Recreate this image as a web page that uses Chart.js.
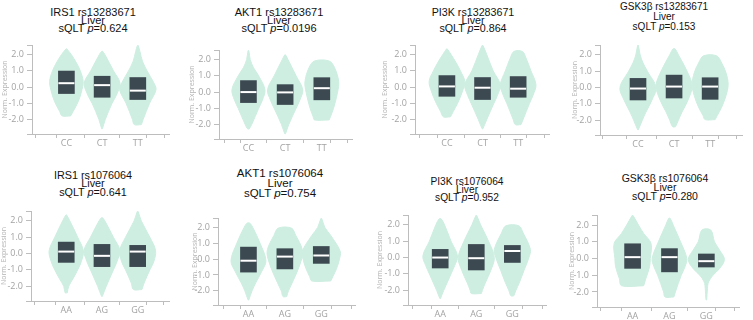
<!DOCTYPE html>
<html>
<head>
<meta charset="utf-8">
<script src="https://cdn.jsdelivr.net/npm/chart.js@4.4.1/dist/chart.umd.min.js"></script>
<style>
  body { margin: 0; width: 753px; height: 320px; background: #fff; position: relative; overflow: hidden; }
  canvas { position: absolute; }
  .title { position: absolute; text-align: center; white-space: nowrap; color: #111;
           font-family: "Liberation Sans", Arial, sans-serif; transform: translateX(-50%); }
</style>
</head>
<body>
<script>
// categories
const genotypesA = ['CC', 'CT', 'TT'];
const genotypesB = ['AA', 'AG', 'GG'];
const genes = ['IRS1', 'AKT1', 'PI3K', 'GSK3β', 'IRS1', 'AKT1', 'PI3K', 'GSK3β'];
const snps = ['rs13283671', 'rs13283671', 'rs13283671', 'rs13283671', 'rs1076064', 'rs1076064', 'rs1076064', 'rs1076064'];
const pValues = ['0.624', '0.0196', '0.864', '0.153', '0.641', '0.754', '0.952', '0.280'];
const yTickValues = [-2, -1, 0, 1, 2];

// box plots: lower quartile, upper quartile, median (one row per panel)
const boxQ1 = [
  [-0.40, -0.63, -0.77], [-0.65, -0.77, -0.48], [-0.57, -0.77, -0.63], [-0.76, -0.64, -0.72],
  [-0.54, -0.80, -0.80], [-0.82, -0.62, -0.27], [-0.64, -0.76, -0.30], [-0.59, -0.80, -0.51]
];
const boxQ3 = [
  [0.99, 0.67, 0.59], [0.71, 0.46, 0.89], [0.71, 0.59, 0.65], [0.56, 0.76, 0.60],
  [0.70, 0.56, 0.50], [0.76, 0.66, 0.80], [0.50, 0.80, 0.74], [0.88, 0.59, 0.27]
];
const medians = [
  [0.24, 0.12, -0.22], [0.00, -0.02, 0.24], [0.04, -0.04, -0.10], [-0.06, 0.06, 0.06],
  [0.12, -0.14, 0.12], [-0.10, 0.16, 0.23], [0.00, -0.04, 0.40], [0.08, 0.08, -0.16]
];

// violin outlines: [expression value, half width in category units], top to bottom
const violinsP1 = [
  [[2.36, 0.01], [2.0, 0.14], [1.5, 0.28], [1.0, 0.39], [0.35, 0.47], [-0.3, 0.42], [-0.9, 0.33], [-1.5, 0.19], [-1.78, 0.12]],
  [[2.22, 0.01], [2.0, 0.08], [1.0, 0.32], [0.25, 0.5], [-0.5, 0.4], [-1.0, 0.28], [-2.0, 0.09], [-2.58, 0.01]],
  [[2.58, 0.01], [2.2, 0.06], [1.6, 0.13], [1.0, 0.26], [0.3, 0.44], [-0.16, 0.51], [-1.0, 0.33], [-2.0, 0.15], [-2.32, 0.1]]
];
const violinsP2 = [
  [[2.56, 0.01], [2.0, 0.05], [1.5, 0.14], [1.0, 0.28], [0.15, 0.45], [-0.5, 0.38], [-1.0, 0.28], [-2.0, 0.09], [-2.28, 0.02]],
  [[2.3, 0.01], [2.0, 0.08], [1.0, 0.3], [0.15, 0.48], [-0.5, 0.4], [-1.0, 0.3], [-2.0, 0.1], [-2.58, 0.01]],
  [[1.92, 0.2], [1.5, 0.35], [0.65, 0.46], [0.0, 0.43], [-1.0, 0.32], [-1.5, 0.24], [-1.72, 0.2]]
];
const violinsP3 = [
  [[2.36, 0.01], [2.0, 0.12], [1.5, 0.26], [1.0, 0.38], [0.35, 0.5], [-0.3, 0.43], [-1.0, 0.3], [-1.5, 0.18], [-1.84, 0.1]],
  [[2.58, 0.01], [2.0, 0.12], [1.0, 0.3], [0.15, 0.5], [-0.5, 0.42], [-1.0, 0.32], [-2.0, 0.12], [-2.58, 0.01]],
  [[2.2, 0.12], [1.8, 0.22], [1.0, 0.36], [0.15, 0.5], [-0.5, 0.42], [-1.0, 0.32], [-2.0, 0.14], [-2.32, 0.08]]
];
const violinsP4 = [
  [[2.58, 0.01], [2.0, 0.06], [1.5, 0.14], [1.0, 0.26], [0.0, 0.5], [-0.8, 0.38], [-1.5, 0.22], [-2.0, 0.12], [-2.58, 0.01]],
  [[2.36, 0.03], [2.0, 0.12], [1.0, 0.36], [0.1, 0.5], [-0.8, 0.38], [-1.5, 0.22], [-2.0, 0.12], [-2.4, 0.04]],
  [[1.94, 0.18], [1.5, 0.32], [0.9, 0.44], [0.2, 0.5], [-0.5, 0.44], [-1.2, 0.32], [-1.7, 0.2], [-1.96, 0.14]]
];
const violinsP5 = [
  [[2.36, 0.01], [2.0, 0.1], [1.0, 0.32], [0.16, 0.48], [-0.5, 0.42], [-1.0, 0.32], [-1.5, 0.2], [-2.0, 0.07], [-2.4, 0.03]],
  [[2.2, 0.01], [2.0, 0.08], [1.0, 0.32], [0.2, 0.5], [-0.5, 0.42], [-1.0, 0.32], [-2.0, 0.12], [-2.62, 0.01]],
  [[2.58, 0.01], [2.0, 0.1], [1.0, 0.34], [0.2, 0.5], [-0.5, 0.45], [-1.0, 0.34], [-1.8, 0.18], [-2.2, 0.12]]
];
const violinsP6 = [
  [[2.27, 0.04], [2.0, 0.12], [1.0, 0.32], [-0.1, 0.48], [-0.8, 0.36], [-1.5, 0.2], [-2.0, 0.1], [-2.58, 0.01]],
  [[1.96, 0.18], [1.5, 0.3], [0.6, 0.48], [0.0, 0.46], [-1.0, 0.3], [-2.0, 0.1], [-2.37, 0.05]],
  [[2.58, 0.01], [2.0, 0.1], [1.5, 0.26], [0.5, 0.52], [0.0, 0.5], [-0.6, 0.42], [-1.1, 0.32], [-1.38, 0.26]]
];
const violinsP7 = [
  [[2.36, 0.03], [2.0, 0.12], [1.0, 0.3], [0.1, 0.48], [-0.5, 0.4], [-1.0, 0.3], [-2.0, 0.1], [-2.5, 0.01]],
  [[2.58, 0.01], [2.0, 0.12], [1.0, 0.34], [0.0, 0.5], [-0.8, 0.4], [-1.5, 0.26], [-2.0, 0.17], [-2.2, 0.14]],
  [[1.94, 0.18], [1.5, 0.3], [0.5, 0.5], [0.0, 0.46], [-0.8, 0.32], [-1.5, 0.2], [-2.0, 0.1], [-2.34, 0.04]]
];
const violinsP8 = [
  [[2.58, 0.01], [2.0, 0.16], [1.5, 0.3], [0.9, 0.5], [0.0, 0.48], [-0.5, 0.46], [-1.2, 0.36], [-1.63, 0.3]],
  [[2.4, 0.02], [2.0, 0.1], [1.0, 0.3], [0.0, 0.47], [-0.5, 0.42], [-1.0, 0.32], [-2.0, 0.16], [-2.3, 0.12]],
  [[1.7, 0.12], [1.0, 0.22], [0.5, 0.36], [-0.06, 0.49], [-0.6, 0.36], [-1.0, 0.18], [-1.4, 0.06], [-1.8, 0.03], [-2.47, 0.01]]
];
const violins = [violinsP1, violinsP2, violinsP3, violinsP4, violinsP5, violinsP6, violinsP7, violinsP8];

// panel layout (pixels)
const axisLeft = [32, 219, 415, 600, 31, 218, 408, 597];
const axisRight = [175, 358, 555, 748, 175, 361, 552, 745];
const zeroY = [86, 90.7, 85.7, 86.7, 252.7, 258.3, 256.7, 257.3];
const unitPx = [16.5, 16.5, 16.5, 16.7, 16.7, 16.2, 16.7, 17];
const xMin = [-0.58, -0.44, -0.52, -0.66, -0.6, -0.46, -0.51, -0.58];
const xMax = [2.49, 2.46, 2.49, 2.49, 2.49, 2.55, 2.55, 2.5];
const yAxisWidth = [31, 31, 34, 29, 31, 27, 32, 29];
const titleX = [93, 279, 473, 664, 93, 280, 467, 665];
const titleY = [12, 12, 12, 7, 175, 173, 182, 178];
const titleGap = [8.2, 8.2, 8.2, 10, 8.5, 10, 8, 9];
const titleSize = [11, 11, 10.7, 10, 10.8, 11.5, 10.2, 10.5];
const yMin = -2.9, yMax = 2.6;
const padTop = 8, padRight = 4, xAxisHeight = 18;

const violinColor = '#cdeee1';
const boxColor = '#3d4951';
const axisColor = '#bdbdbd';
const tickColor = '#a3a3a3';

function violinPoints(center, shape) {
  const right = shape.slice().reverse().map(([v, w]) => ({x: center + w, y: v}));
  const left = shape.map(([v, w]) => ({x: center - w, y: v}));
  return right.concat(left, [right[0]]);
}

for (let p = 0; p < 8; p++) {
  const labels = p < 4 ? genotypesA : genotypesB;
  const top = zeroY[p] - yMax * unitPx[p];
  const areaH = (yMax - yMin) * unitPx[p];
  const yw = yAxisWidth[p];

  const title = document.createElement('div');
  title.className = 'title';
  title.style.left = titleX[p] + 'px';
  title.style.top = (titleY[p] - titleGap[p] / 2) + 'px';
  title.style.fontSize = titleSize[p] + 'px';
  title.style.lineHeight = titleGap[p] + 'px';
  title.innerHTML = genes[p] + ' ' + snps[p] + '<br>Liver<br>sQLT <i>p</i>=' + pValues[p];
  document.body.appendChild(title);

  const canvas = document.createElement('canvas');
  canvas.width = Math.round(yw + axisRight[p] - axisLeft[p] + padRight);
  canvas.height = Math.round(padTop + areaH + xAxisHeight);
  canvas.style.left = (axisLeft[p] - yw) + 'px';
  canvas.style.top = (top - padTop) + 'px';
  document.body.appendChild(canvas);

  const datasets = violins[p].map((shape, i) => ({
    type: 'line',
    data: violinPoints(i, shape),
    backgroundColor: violinColor,
    borderColor: violinColor,
    borderWidth: 1,
    pointRadius: 0,
    tension: 0.35,
    fill: 'shape',
    order: 3
  }));
  datasets.push({
    type: 'bar',
    data: boxQ1[p].map((q, i) => ({x: i, y: [q, boxQ3[p][i]]})),
    backgroundColor: boxColor,
    barThickness: 16,
    order: 2
  });
  datasets.push({
    type: 'scatter',
    data: medians[p].map((m, i) => ({x: i, y: m})),
    pointStyle: 'line',
    pointRadius: 8,
    borderColor: '#ffffff',
    borderWidth: 2,
    order: 1
  });

  new Chart(canvas, {
    type: 'scatter',
    data: {datasets: datasets},
    options: {
      responsive: false,
      animation: false,
      events: [],
      layout: {padding: {top: padTop, right: padRight, left: 0, bottom: 0}},
      plugins: {legend: {display: false}, tooltip: {enabled: false}},
      scales: {
        x: {
          type: 'linear',
          min: xMin[p],
          max: xMax[p],
          afterBuildTicks: s => { s.ticks = [xMin[p], 0, 1, 2, xMax[p]].map(v => ({value: v})); },
          afterFit: s => { s.height = xAxisHeight; },
          grid: {drawOnChartArea: false, drawTicks: true, tickLength: 4, color: axisColor},
          border: {display: true, color: axisColor},
          ticks: {
            padding: 0,
            autoSkip: false,
            maxRotation: 0,
            color: tickColor,
            font: {family: 'Open Sans', size: 9},
            callback: v => (Number.isInteger(v) && labels[v] !== undefined) ? labels[v] : ''
          }
        },
        y: {
          type: 'linear',
          min: yMin,
          max: yMax,
          afterBuildTicks: s => { s.ticks = [yMin].concat(yTickValues, [yMax]).map(v => ({value: v})); },
          afterFit: s => { s.width = yw; },
          grid: {drawOnChartArea: false, drawTicks: true, tickLength: 5, color: axisColor},
          border: {display: true, color: axisColor},
          title: {display: true, text: 'Norm. Expression', color: '#b3b3b3', padding: 0,
                  font: {family: 'Open Sans', size: 7}},
          ticks: {
            padding: 3,
            autoSkip: false,
            color: tickColor,
            font: {family: 'Open Sans', size: 9},
            callback: v => yTickValues.includes(v) ? v.toFixed(1) : ''
          }
        }
      }
    }
  });
}
</script>
</body>
</html>
